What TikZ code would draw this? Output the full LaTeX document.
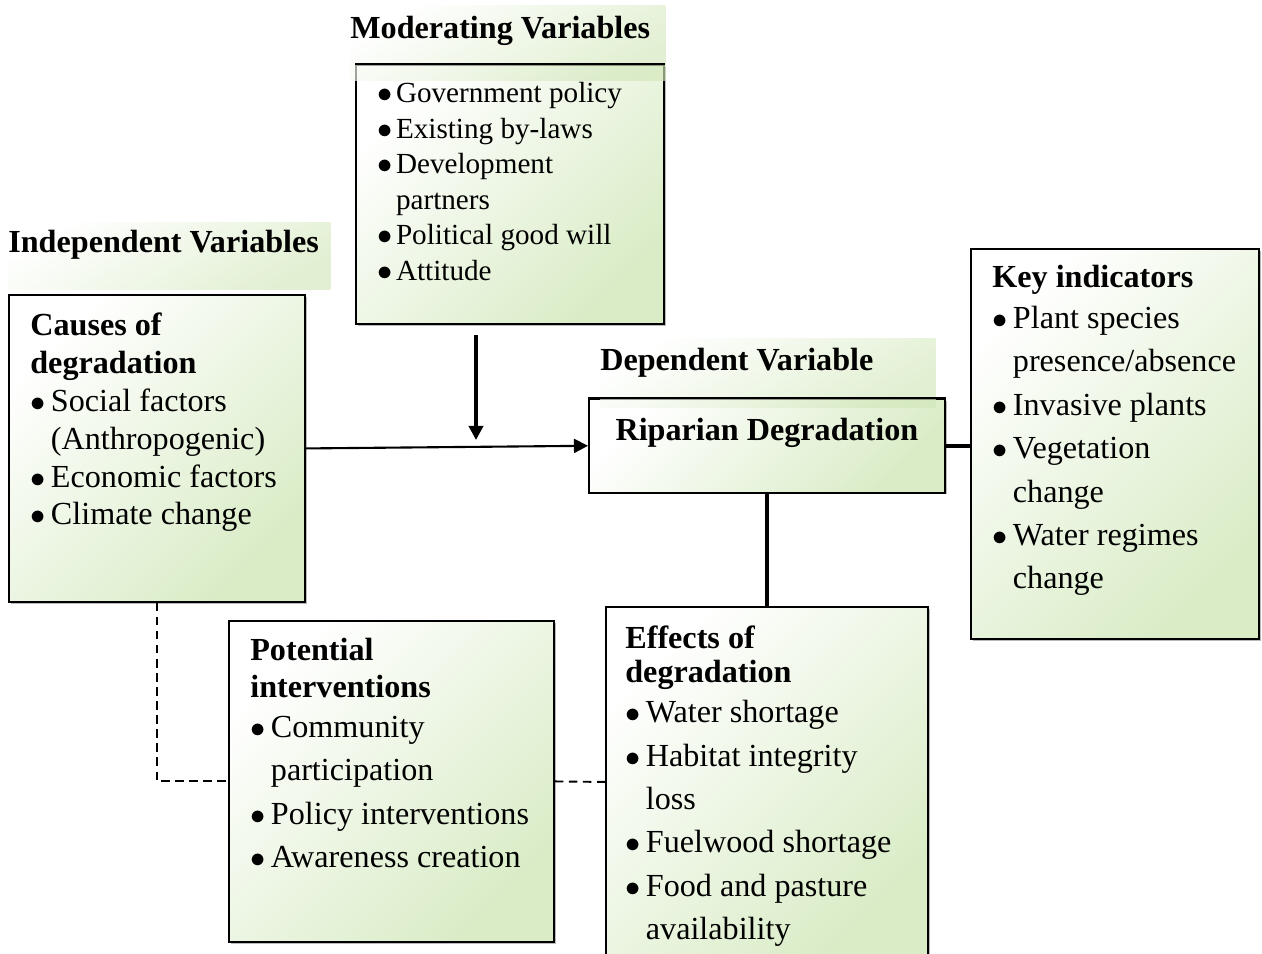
\documentclass[tikz,border=0pt]{standalone}
\usepackage{fontspec}
\setmainfont{Liberation Serif}
\usetikzlibrary{arrows.meta,shadows}

\definecolor{boxgreen}{HTML}{D9ECC6}
\definecolor{bandgreen}{HTML}{D2E7BA}

\newcommand{\bul}{\makebox[0.64em][l]{$\bullet$}}
\newcommand{\hng}{\hspace*{0.64em}}

\begin{document}
\begin{tikzpicture}[x=0.02cm, y=-0.02cm,
    box/.style={draw, line width=1.1pt, anchor=north west, inner sep=0pt,
                top color=white, bottom color=boxgreen, shading angle=45,
                drop shadow={shadow xshift=1pt, shadow yshift=-1pt,
                             fill=black!45, opacity=0.6}},
    band/.style={anchor=north west, inner sep=0pt, align=flush left,
                 font=\fontsize{18.3}{21.5}\selectfont\bfseries,
                 top color=white, bottom color=bandgreen, shading angle=30,
                 fill opacity=0.65, text opacity=1},
    txt/.style={anchor=north west, align=left, inner sep=0pt,
                font=\fontsize{18.3}{24.7}\selectfont},
    edge/.style={line width=1.1pt},
    arr/.style={-{Triangle[length=8pt, width=8pt]}, line width=1.2pt},
    link/.style={line width=2.6pt},
    dashlink/.style={dash pattern=on 4.8pt off 3.2pt, line width=1.1pt},
]
\useasboundingbox (0,0) rectangle (1262,954);

% --- Boxes ---
\node[box, minimum width=6.16cm, minimum height=5.18cm] (moder) at (355,64) {};
\node[box, minimum width=5.92cm, minimum height=6.14cm] (causes) at (8,294) {};
\node[box, minimum width=5.76cm, minimum height=7.8cm] (key) at (970,248) {};
\node[box, minimum width=6.5cm, minimum height=6.42cm] (potential) at (228,620) {};
\node[box, minimum width=6.44cm, minimum height=7.0cm] (effects) at (605,606) {};
\node[box, minimum width=7.12cm, text height=23.8pt, text depth=29.5pt,
      font=\fontsize{18.3}{21.5}\selectfont\bfseries]
    (ripar) at (588,398) {Riparian Degradation};

% --- Variable headings ---
\node[band, text width=6.3cm, text height=18.7pt, text depth=23.8pt]
    (modhead) at (350,5) {Moderating Variables};
\node[band, text width=6.44cm, text height=17pt, text depth=21.5pt]
    (indhead) at (8,222) {Independent Variables};
\node[band, text width=6.7cm, text height=18.1pt, text depth=21.5pt]
    (dephead) at (600,338) {Dependent Variable};

% top edges show through the headings
\draw[edge] (moder.north west) -- (moder.north east);
\draw[edge] (ripar.north west) -- (ripar.north east);

% --- Box texts ---
\node[txt, font=\fontsize{16.6}{20.2}\selectfont] (modtxt) at (377,82)
    {\bul Government policy\\\bul Existing by-laws\\\bul Development\\
     \hng partners\\\bul Political good will\\\bul Attitude};

\node[txt, font=\fontsize{18.3}{21.5}\selectfont] (causestxt) at (30,313)
    {\textbf{Causes of}\\\textbf{degradation}\\\bul Social factors\\
     \hng(Anthropogenic)\\\bul Economic factors\\\bul Climate change};

\node[txt] (keytxt) at (992,265)
    {\textbf{Key indicators}\\[-1.5pt]\bul Plant species\\
     \hng presence/absence\\\bul Invasive plants\\\bul Vegetation\\
     \hng change\\\bul Water regimes\\\hng change};

\node[txt] (potentialtxt) at (250,638)
    {\textbf{Potential}\\[-3.7pt]\textbf{interventions}\\[-2pt]\bul Community\\
     \hng participation\\\bul Policy interventions\\\bul Awareness creation};

\node[txt] (effectstxt) at (625,625)
    {\textbf{Effects of}\\[-4.9pt]\textbf{degradation}\\[-2pt]\bul Water shortage\\
     \bul Habitat integrity\\\hng loss\\\bul Fuelwood shortage\\
     \bul Food and pasture\\\hng availability};

% --- Connectors ---
\coordinate (modtop) at (476,335);
\coordinate (modtip) at (476,440);

\draw[arr] (causes.east) -- (ripar.west);
\draw[arr, line width=2.2pt] (modtop) -- (modtip);
\draw[link] (ripar.east) -- (ripar.east -| key.west);
\draw[link] (ripar.south) -- (ripar.south |- effects.north);
\draw[dashlink] (causes.south) |- (potential.west);
\draw[dashlink] (potential.east) -- (effects.west);

\end{tikzpicture}
\end{document}
